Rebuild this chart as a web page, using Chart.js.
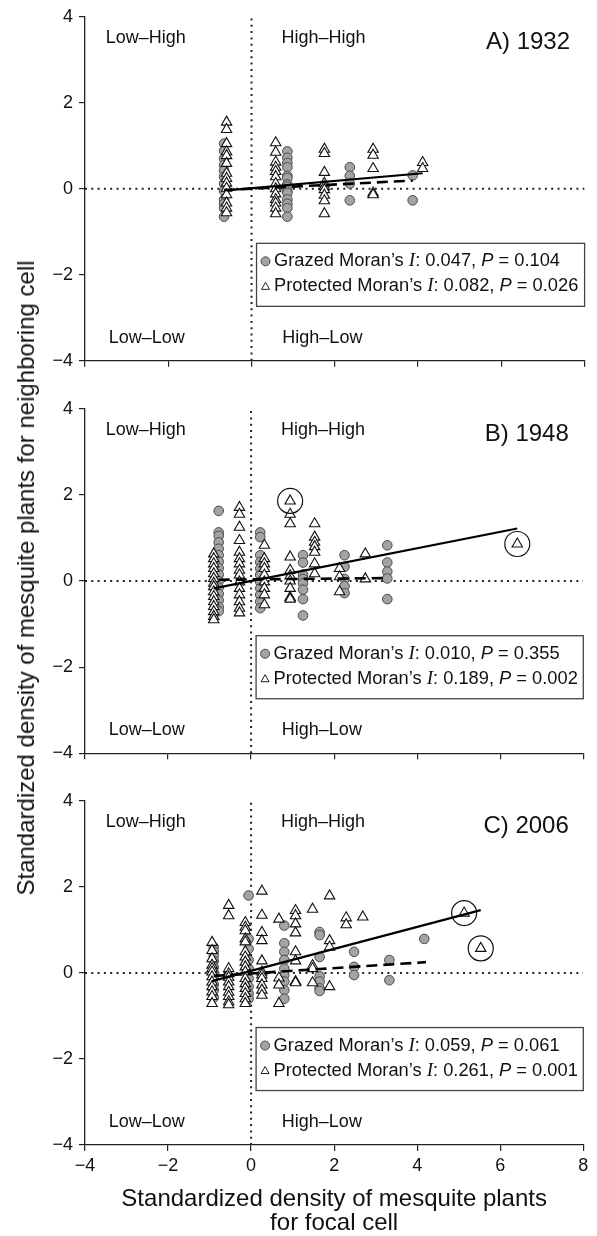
<!DOCTYPE html>
<html>
<head>
<meta charset="utf-8">
<script src="https://cdn.jsdelivr.net/npm/chart.js@4.4.1/dist/chart.umd.min.js"></script>
<style>
  body { margin: 0; background: #fff; }
  #wrap { position: relative; width: 597px; height: 1236px; overflow: hidden; }
  .panel { position: absolute; left: 0; width: 597px; }
  #ytitle {
    position: absolute; left: 26px; top: 578px;
    transform: translate(-50%, -50%) rotate(-90deg);
    white-space: nowrap;
    font: 24px "Liberation Sans", Arial, sans-serif; color: #111;
  }
</style>
</head>
<body>
<div id="wrap">
  <div class="panel" style="top:0px;height:380px"><canvas id="chartA"></canvas></div>
  <div class="panel" style="top:392px;height:380px"><canvas id="chartB"></canvas></div>
  <div class="panel" style="top:784px;height:452px"><canvas id="chartC"></canvas></div>
  <div id="ytitle">Standardized density of mesquite plants for neighboring cell</div>
</div>
<script>
// each column: [focal-cell x, [neighbour y values...]]
var grazed1932 = [
  [-0.66, [1.05, 0.88, 0.7, 0.55, 0.42, 0.28, 0.12, -0.05, -0.25, -0.35, -0.45, -0.65]],
  [0.86, [0.87, 0.72, 0.6, 0.5, 0.3, 0.25, 0.1, 0.05, -0.05, -0.1, -0.25, -0.35, -0.45, -0.65]],
  [2.36, [0.5, 0.3, 0.12, -0.27]],
  [3.87, [0.31, -0.27]]
];
var protected1932 = [
  [-0.6, [1.55, 1.38, 1.05, 0.86, 0.77, 0.59, 0.36, 0.24, 0.13, 0.01, -0.14, -0.33, -0.45, -0.56]],
  [0.58, [1.07, 0.85, 0.62, 0.5, 0.4, 0.28, 0.12, 0, -0.12, -0.25, -0.33, -0.45, -0.58]],
  [1.75, [0.92, 0.82, 0.38, 0.13, 0.05, -0.02, -0.15, -0.28, -0.58]],
  [2.92, [0.92, 0.78, 0.47, -0.1, -0.14]],
  [4.11, [0.61, 0.47]]
];
var grazedFit1932 = [[-0.66, -0.03], [3.87, 0.19]];
var protectedFit1932 = [[-0.6, -0.04], [4.11, 0.36]];

var grazed1948 = [
  [-0.78, [1.63, 1.13, 1.05, 0.9, 0.75, 0.6, 0.45, 0.3, 0.15, 0.0, -0.15, -0.3, -0.45, -0.6, -0.7]],
  [0.22, [1.13, 1.02, 0.6, 0.44, 0.29, 0.14, -0.02, -0.17, -0.32, -0.48, -0.63]],
  [1.25, [0.6, 0.43, 0.15, 0.05, -0.05, -0.2, -0.42, -0.8]],
  [2.25, [0.6, 0.33, 0.05, -0.12, -0.28]],
  [3.28, [0.83, 0.43, 0.22, 0.06, -0.42]]
];
var protected1948 = [
  [-0.9, [0.63, 0.52, 0.4, 0.29, 0.17, 0.06, -0.05, -0.13, -0.25, -0.36, -0.48, -0.59, -0.71, -0.82, -0.9]],
  [-0.28, [1.71, 1.55, 1.25, 0.94, 0.67, 0.52, 0.4, 0.25, 0.14, -0.02, -0.17, -0.32, -0.48, -0.63, -0.74]],
  [0.32, [0.83, 0.52, 0.4, 0.29, 0.14, -0.02, -0.17, -0.32, -0.55]],
  [0.94, [1.86, 1.55, 1.33, 0.56, 0.25, 0.12, 0.0, -0.17, -0.38, -0.42]],
  [1.53, [1.33, 1.02, 0.9, 0.8, 0.67, 0.4, 0.17]],
  [2.13, [0.29, 0.1, -0.25]],
  [2.75, [0.63, 0.05]],
  [6.41, [0.86]]
];
var outliers1948 = [[0.94, 1.86], [6.41, 0.86]];
var grazedFit1948 = [[-0.78, 0.03], [3.28, 0.07]];
var protectedFit1948 = [[-0.9, -0.17], [6.41, 1.22]];

var grazed2006 = [
  [-0.9, [0.6, 0.5, 0.4, 0.28, 0.13, 0.0, -0.1, -0.27, -0.4, -0.57]],
  [-0.06, [1.8, 0.79, 0.56, 0.3, 0.1, -0.13, -0.32, -0.48, -0.6]],
  [0.8, [1.1, 0.69, 0.49, 0.3, 0.1, -0.05, -0.2, -0.4, -0.6]],
  [1.65, [0.95, 0.88, 0.37, -0.08, -0.2, -0.36, -0.42]],
  [2.48, [0.49, 0.14, -0.05]],
  [3.33, [0.3, -0.17]],
  [4.17, [0.79]]
];
var protected2006 = [
  [-0.94, [0.71, 0.52, 0.33, 0.18, 0.1, 0.02, -0.09, -0.21, -0.32, -0.44, -0.55, -0.71]],
  [-0.54, [1.57, 1.33, 0.1, -0.02, -0.1, -0.21, -0.32, -0.45, -0.55, -0.67, -0.74]],
  [-0.14, [1.17, 1.06, 0.98, 0.79, 0.72, 0.49, 0.37, 0.25, 0.14, 0.02, -0.13, -0.25, -0.36, -0.48, -0.6, -0.71]],
  [0.26, [1.9, 1.34, 0.94, 0.75, 0.28, 0.02, -0.05, -0.13, -0.28, -0.4, -0.52]],
  [0.67, [1.25, -0.12, -0.28, -0.71]],
  [1.07, [1.45, 1.33, 1.14, 0.93, 0.49, 0.28, -0.2, -0.23]],
  [1.48, [1.48, 0.17, 0.1, -0.23]],
  [1.89, [1.79, 0.75, 0.6, -0.32]],
  [2.29, [1.28, 1.12]],
  [2.69, [1.3]],
  [5.13, [1.39]],
  [5.53, [0.57]]
];
var outliers2006 = [[5.13, 1.39], [5.53, 0.57]];
var grazedFit2006 = [[-0.9, -0.07], [4.21, 0.25]];
var protectedFit2006 = [[-0.94, -0.19], [5.53, 1.46]];

var xTicks = [-4, -2, 0, 2, 4, 6, 8];
var yTicks = [-4, -2, 0, 2, 4];
var quadLabels = ['Low\u2013High', 'High\u2013High', 'Low\u2013Low', 'High\u2013Low'];
var panelTitles = ['A) 1932', 'B) 1948', 'C) 2006'];
var grazedStats = [['0.047', '0.104'], ['0.010', '0.355'], ['0.059', '0.061']];
var protectedStats = [['0.082', '0.026'], ['0.189', '0.002'], ['0.261', '0.001']];

var SANS = '"Liberation Sans", Arial, sans-serif';
var SERIF = '"Liberation Serif", "Times New Roman", serif';
var CIRCLE_FILL = '#a3a3a3', CIRCLE_EDGE = '#4a4a4a';

function cols2pts(cols) {
  var out = [];
  cols.forEach(function(c) {
    c[1].forEach(function(y) { out.push({x: c[0], y: y}); });
  });
  return out;
}
function pairs2pts(p) {
  return p.map(function(d) { return {x: d[0], y: d[1]}; });
}
function minus(v) { return v < 0 ? '\u2212' + Math.abs(v) : '' + v; }

function drawRich(ctx, x, y, parts) {
  parts.forEach(function(p) {
    if (p[1] == 'iSerif') ctx.font = 'italic 19px ' + SERIF;
    else if (p[1] == 'i') ctx.font = 'italic 18.3px ' + SANS;
    else ctx.font = '18.3px ' + SANS;
    ctx.fillText(p[0], x, y);
    x += ctx.measureText(p[0]).width;
  });
}

var notesPlugin = {
  id: 'notes',
  afterDatasetsDraw: function(chart) {
    var o = chart.options.plugins.notes;
    var ctx = chart.ctx, xs = chart.scales.x, ys = chart.scales.y;
    ctx.save();
    ctx.fillStyle = '#111';
    ctx.textBaseline = 'middle';
    ctx.textAlign = 'left';
    ctx.font = '18px ' + SANS;
    ctx.fillText(quadLabels[0], xs.getPixelForValue(-3.5), ys.getPixelForValue(3.5));
    ctx.fillText(quadLabels[1], xs.getPixelForValue(0.72), ys.getPixelForValue(3.5));
    ctx.fillText(quadLabels[2], xs.getPixelForValue(-3.43), ys.getPixelForValue(-3.47));
    ctx.fillText(quadLabels[3], xs.getPixelForValue(0.74), ys.getPixelForValue(-3.47));
    ctx.textAlign = 'right';
    ctx.font = '24px ' + SANS;
    ctx.fillText(panelTitles[o.idx], xs.getPixelForValue(7.65), ys.getPixelForValue(3.4));

    // legend box
    var bx = xs.getPixelForValue(0.12), by = ys.getPixelForValue(-1.27);
    var bw = xs.right - bx, bh = 63;
    ctx.fillStyle = '#fff';
    ctx.fillRect(bx, by, bw, bh);
    ctx.strokeStyle = '#444';
    ctx.lineWidth = 1.3;
    ctx.strokeRect(bx, by, bw, bh);
    var r1 = by + 18, r2 = by + 43;
    ctx.beginPath();
    ctx.arc(bx + 9, r1, 4.5, 0, Math.PI * 2);
    ctx.fillStyle = CIRCLE_FILL; ctx.fill();
    ctx.strokeStyle = CIRCLE_EDGE; ctx.lineWidth = 1; ctx.stroke();
    ctx.beginPath();
    ctx.moveTo(bx + 9, r2 - 4); ctx.lineTo(bx + 13, r2 + 3); ctx.lineTo(bx + 5, r2 + 3); ctx.closePath();
    ctx.strokeStyle = '#222'; ctx.stroke();
    ctx.fillStyle = '#111';
    ctx.textAlign = 'left';
    var g = grazedStats[o.idx], p = protectedStats[o.idx];
    drawRich(ctx, bx + 17.5, r1, [['Grazed Moran\u2019s ', 'n'], ['I', 'iSerif'], [': ' + g[0] + ', ', 'n'], ['P', 'i'], [' = ' + g[1], 'n']]);
    drawRich(ctx, bx + 17.5, r2, [['Protected Moran\u2019s ', 'n'], ['I', 'iSerif'], [': ' + p[0] + ', ', 'n'], ['P', 'i'], [' = ' + p[1], 'n']]);
    ctx.restore();
  }
};

function makePanel(id, idx, grazed, prot, gFit, pFit, rings, padTop, areaH, boxH, last) {
  var datasets = [
    { label: 'y0', data: [{x: -4, y: 0}, {x: 8, y: 0}], showLine: true, pointRadius: 0,
      borderColor: '#222', borderWidth: 2, borderDash: [2, 4.3], order: 5 },
    { label: 'x0', data: [{x: 0, y: -4}, {x: 0, y: 4}], showLine: true, pointRadius: 0,
      borderColor: '#222', borderWidth: 2, borderDash: [2, 4.3], order: 5 },
    { label: 'Grazed', data: cols2pts(grazed), pointStyle: 'circle', pointRadius: 4.8,
      backgroundColor: CIRCLE_FILL, borderColor: CIRCLE_EDGE, borderWidth: 1, order: 3 },
    { label: 'Protected', data: cols2pts(prot), pointStyle: 'triangle', pointRadius: 6,
      backgroundColor: '#fff', borderColor: '#111', borderWidth: 1.1, order: 2 },
    { label: 'Grazed fit', data: pairs2pts(gFit), showLine: true, pointRadius: 0,
      borderColor: '#000', borderWidth: 2.6, borderDash: [11, 6], order: 1 },
    { label: 'Protected fit', data: pairs2pts(pFit), showLine: true, pointRadius: 0,
      borderColor: '#000', borderWidth: 2.2, order: 0 }
  ];
  if (rings) {
    datasets.push({ label: 'outliers', data: pairs2pts(rings), pointStyle: 'circle', pointRadius: 12.5,
      backgroundColor: 'rgba(0,0,0,0)', borderColor: '#111', borderWidth: 1.2, order: 0 });
  }
  var tickFont = { family: SANS, size: 18 };
  return new Chart(document.getElementById(id), {
    type: 'scatter',
    data: { datasets: datasets },
    plugins: [notesPlugin],
    options: {
      responsive: true,
      maintainAspectRatio: false,
      animation: false,
      events: [],
      layout: { padding: { top: padTop, right: 12.4, left: 0, bottom: 0 } },
      plugins: { legend: { display: false }, tooltip: { enabled: false }, notes: { idx: idx } },
      scales: {
        x: {
          type: 'linear', min: -4, max: 8,
          afterBuildTicks: function(s) { s.ticks = xTicks.map(function(v) { return {value: v}; }); },
          ticks: { display: last, font: tickFont, color: '#111', padding: 4, maxRotation: 0,
                   callback: function(v) { return minus(v); } },
          grid: { drawOnChartArea: false, drawTicks: true, tickLength: 6, color: '#222', lineWidth: 1.2 },
          border: { color: '#222', width: 1.3 },
          title: last ? { display: true, text: ['Standardized density of mesquite plants', 'for focal cell'],
                          font: { family: SANS, size: 24, lineHeight: 1 }, color: '#111',
                          padding: { top: 0, bottom: 1 } } : { display: false },
          afterFit: function(s) { s.height = boxH - padTop - areaH; }
        },
        y: {
          min: -4, max: 4,
          afterBuildTicks: function(s) { s.ticks = yTicks.map(function(v) { return {value: v}; }); },
          ticks: { font: tickFont, color: '#111', padding: 6,
                   callback: function(v) { return minus(v); } },
          grid: { drawOnChartArea: false, drawTicks: true, tickLength: 6, color: '#222', lineWidth: 1.2 },
          border: { color: '#222', width: 1.3 },
          afterFit: function(s) { s.width = 85; }
        }
      }
    }
  });
}

makePanel('chartA', 0, grazed1932, protected1932, grazedFit1932, protectedFit1932, null, 13.3, 347.4, 380, false);
makePanel('chartB', 1, grazed1948, protected1948, grazedFit1948, protectedFit1948, outliers1948, 13, 348.3, 380, false);
makePanel('chartC', 2, grazed2006, protected2006, grazedFit2006, protectedFit2006, outliers2006, 12.7, 348.3, 452, true);
</script>
</body>
</html>
